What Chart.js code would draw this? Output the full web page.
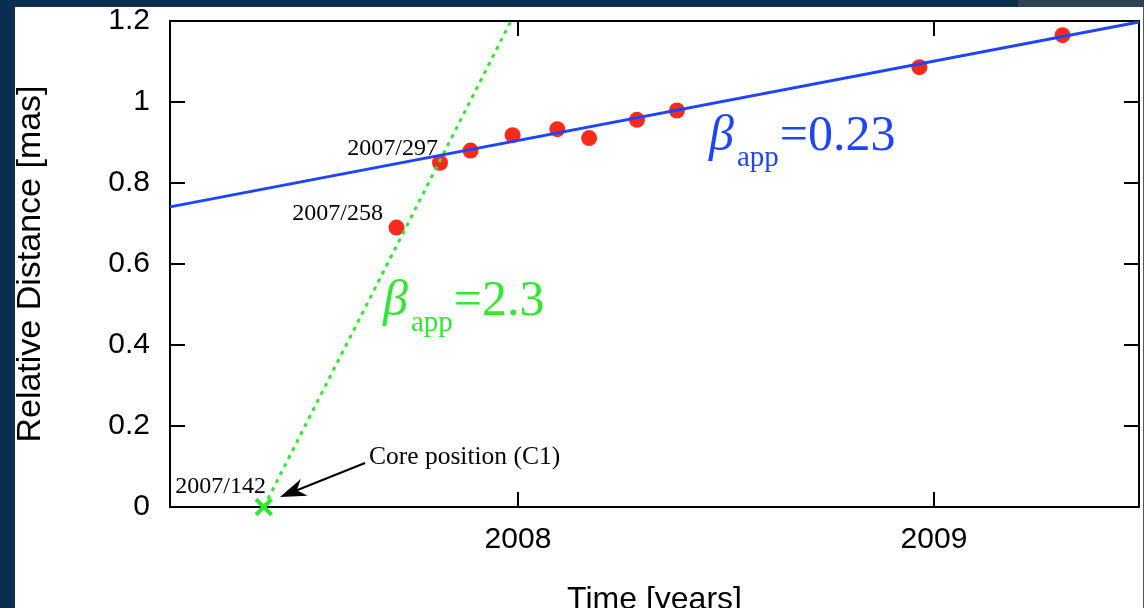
<!DOCTYPE html>
<html><head><meta charset="utf-8">
<script src="https://cdn.jsdelivr.net/npm/chart.js@4.4.1/dist/chart.umd.min.js"></script>
<style>html,body{margin:0;padding:0;background:#0a2e50;overflow:hidden}canvas{display:block}</style>
</head><body>
<canvas id="c" width="1144" height="608"></canvas>
<script>
// Observations (decimal year, relative distance in mas)
const obsTimes = [2007.708, 2007.8125, 2007.886, 2007.987, 2008.0945, 2008.171, 2008.286, 2008.382, 2008.965, 2009.309];
const obsDistances = [0.690, 0.850, 0.880, 0.918, 0.933, 0.911, 0.956, 0.979, 1.086, 1.165];
// Slow-motion fit (beta_app = 0.23)
const slowFitTimes = [2007.1635, 2009.4928];
const slowFitDistances = [0.741, 1.1975];
// Fast-motion fit (beta_app = 2.3)
const fastFitTimes = [2007.389, 2007.983];
const fastFitDistances = [0.0, 1.2];
// Core position C1
const coreTimes = [2007.389];
const coreDistances = [0];
// Axes
const xRange = [2007.1635, 2009.4928];
const yRange = [0, 1.2];
const xTickValues = [2008, 2009];
const yTickValues = [0, 0.2, 0.4, 0.6, 0.8, 1, 1.2];
const xTitle = 'Time [years]';
const yTitle = 'Relative Distance [mas]';
// Annotations (anchored in data coordinates)
const dateLabels = [
  {text: '2007/297', x: 2007.8077, y: 0.869},
  {text: '2007/258', x: 2007.6755, y: 0.7086},
  {text: '2007/142', x: 2007.3942, y: 0.0346}
];
const coreLabel = {text: 'Core position (C1)', x: 2007.6418, y: 0.1062};
const coreArrow = {from: [2007.6322, 0.1086], to: [2007.4279, 0.0247]};
const betaLabels = [
  {value: '=0.23', x: 2008.4591, y: 0.8815, color: '#1f45fc'},
  {value: '=2.3', x: 2007.6755, y: 0.4741, color: '#33e633'}
];

const BLUE = '#1f45fc', GREEN = '#33e633', RED = '#fb2a1c';
const pts = (xs, ys) => xs.map((x, i) => ({x, y: ys[i]}));

const framePlugin = {
  id: 'frame',
  beforeDraw(chart) {
    const ctx = chart.ctx, W = chart.width, H = chart.height;
    ctx.save();
    ctx.fillStyle = '#0a2e50'; ctx.fillRect(0, 0, W, H);
    ctx.fillStyle = '#2e4255'; ctx.fillRect(1018, 0, W - 1018, 7);
    ctx.fillStyle = '#ffffff'; ctx.fillRect(15, 7, W - 16, H - 7);
    ctx.fillStyle = '#4a5864'; ctx.fillRect(W - 1, 7, 1, H - 7);
    ctx.restore();
  },
  beforeDatasetsDraw(chart) {
    const {ctx, chartArea: a, scales} = chart;
    ctx.save();
    ctx.strokeStyle = '#000'; ctx.lineWidth = 2;
    ctx.strokeRect(a.left, a.top, a.right - a.left, a.bottom - a.top);
    const L = 15;
    ctx.beginPath();
    yTickValues.forEach(v => {
      const y = Math.round(scales.y.getPixelForValue(v));
      ctx.moveTo(a.left, y); ctx.lineTo(a.left + L, y);
      ctx.moveTo(a.right, y); ctx.lineTo(a.right - L, y);
    });
    xTickValues.forEach(v => {
      const x = Math.round(scales.x.getPixelForValue(v));
      ctx.moveTo(x, a.bottom); ctx.lineTo(x, a.bottom - L);
      ctx.moveTo(x, a.top); ctx.lineTo(x, a.top + L);
    });
    ctx.stroke();
    ctx.restore();
  },
  afterDatasetsDraw(chart) {
    const {ctx, scales} = chart;
    const px = v => scales.x.getPixelForValue(v), py = v => scales.y.getPixelForValue(v);
    ctx.save();
    ctx.fillStyle = '#000';
    ctx.textBaseline = 'alphabetic';
    ctx.font = '24px "Liberation Serif"';
    ctx.textAlign = 'right';
    dateLabels.forEach(l => ctx.fillText(l.text, px(l.x), py(l.y)));
    ctx.textAlign = 'left';
    ctx.font = '25.5px "Liberation Serif"';
    ctx.fillText(coreLabel.text, px(coreLabel.x), py(coreLabel.y));
    // arrow
    const x0 = px(coreArrow.from[0]), y0 = py(coreArrow.from[1]);
    const x1 = px(coreArrow.to[0]), y1 = py(coreArrow.to[1]);
    const ang = Math.atan2(y1 - y0, x1 - x0);
    const hl = 26, hw = 9;
    ctx.strokeStyle = '#000'; ctx.lineWidth = 2;
    ctx.beginPath(); ctx.moveTo(x0, y0);
    ctx.lineTo(x1 - Math.cos(ang) * hl * 0.7, y1 - Math.sin(ang) * hl * 0.7); ctx.stroke();
    ctx.beginPath();
    ctx.moveTo(x1, y1);
    ctx.lineTo(x1 - Math.cos(ang) * hl + Math.sin(ang) * hw, y1 - Math.sin(ang) * hl - Math.cos(ang) * hw);
    ctx.lineTo(x1 - Math.cos(ang) * hl * 0.7, y1 - Math.sin(ang) * hl * 0.7);
    ctx.lineTo(x1 - Math.cos(ang) * hl - Math.sin(ang) * hw, y1 - Math.sin(ang) * hl + Math.cos(ang) * hw);
    ctx.closePath(); ctx.fill();
    // beta labels
    betaLabels.forEach(b => {
      let x = px(b.x); const y = py(b.y);
      ctx.fillStyle = b.color;
      ctx.font = 'italic 50px "Liberation Serif"';
      ctx.fillText('β', x, y);
      x += ctx.measureText('β').width + 3;
      ctx.font = '29px "Liberation Serif"';
      ctx.fillText('app', x, y + 16);
      x += ctx.measureText('app').width + 1;
      ctx.font = '50px "Liberation Serif"';
      ctx.fillText(b.value, x, y);
    });
    ctx.restore();
  }
};

new Chart(document.getElementById('c'), {
  type: 'scatter',
  data: {
    datasets: [
      {data: pts(coreTimes, coreDistances), pointStyle: 'crossRot', pointRadius: 11, pointBorderWidth: 4,
       borderColor: GREEN, backgroundColor: GREEN, order: 0, clip: false},
      {data: pts(slowFitTimes, slowFitDistances), showLine: true, borderColor: BLUE, borderWidth: 3,
       pointRadius: 0, order: 1, clip: false},
      {data: pts(fastFitTimes, fastFitDistances), showLine: true, borderColor: GREEN, borderWidth: 3,
       borderDash: [4, 5], pointRadius: 0, order: 2},
      {data: pts(obsTimes, obsDistances), pointStyle: 'circle', pointRadius: 8, pointBorderWidth: 0,
       backgroundColor: RED, borderColor: RED, order: 3}
    ]
  },
  options: {
    responsive: false, animation: false, devicePixelRatio: 1,
    events: [],
    layout: {autoPadding: false, padding: {left: 15, top: 21, right: 5, bottom: 0}},
    plugins: {legend: {display: false}, tooltip: {enabled: false}},
    scales: {
      x: {
        type: 'linear', min: xRange[0], max: xRange[1],
        grid: {display: false, drawTicks: false}, border: {display: false},
        ticks: {color: '#000', font: {family: 'Liberation Sans', size: 30}, padding: 15,
                maxRotation: 0, autoSkip: false, callback: v => String(v)},
        afterBuildTicks: s => { s.ticks = xTickValues.map(v => ({value: v})); },
        title: {display: true, text: xTitle, color: '#000',
                font: {family: 'Liberation Sans', size: 32, lineHeight: 1}, padding: {top: 0, bottom: -8}},
        afterFit: s => { s.height = 101; s.paddingLeft = 0; s.paddingRight = 0; s.paddingTop = 0; s.paddingBottom = 0; }
      },
      y: {
        type: 'linear', min: yRange[0], max: yRange[1],
        grid: {display: false, drawTicks: false}, border: {display: false},
        ticks: {color: '#000', font: {family: 'Liberation Sans', size: 30}, padding: 20,
                autoSkip: false, callback: v => String(Math.round(v * 10) / 10)},
        afterBuildTicks: s => { s.ticks = yTickValues.map(v => ({value: v})); },
        title: {display: true, text: yTitle, color: '#000',
                font: {family: 'Liberation Sans', size: 34, lineHeight: 1}, padding: {top: -1, bottom: 0}},
        afterFit: s => { s.width = 155; s.paddingLeft = 0; s.paddingRight = 0; s.paddingTop = 0; s.paddingBottom = 0; }
      }
    }
  },
  plugins: [framePlugin]
});
</script>
</body></html>
